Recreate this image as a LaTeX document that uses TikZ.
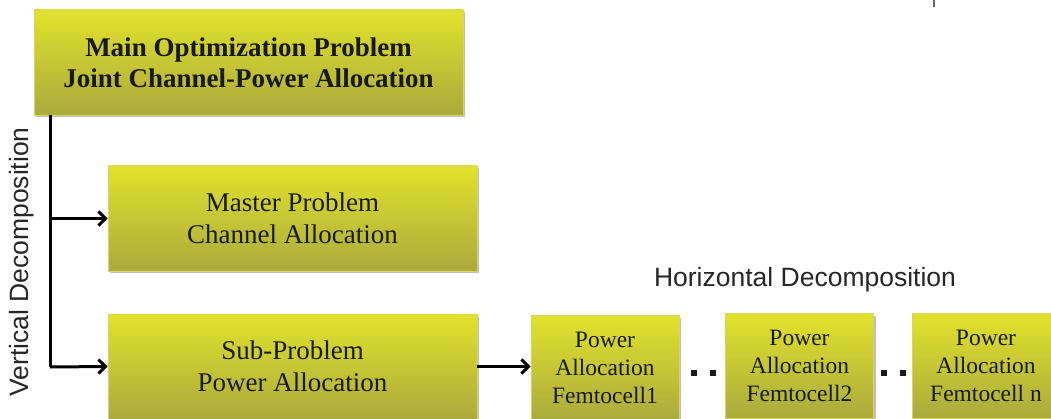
\documentclass[tikz,border=0pt]{standalone}
\usepackage{fontspec}
\setmainfont{Liberation Serif}
\setsansfont{Liberation Sans}
\usetikzlibrary{arrows.meta,shadows}

\definecolor{boxtop}{RGB}{226,226,44}
\definecolor{boxbot}{RGB}{170,170,62}
\definecolor{boxedge}{RGB}{214,214,96}

\tikzset{
  block/.style={rectangle, inner sep=0pt, top color=boxtop, bottom color=boxbot,
    draw=boxedge, line width=0.8pt, align=center, text=black!90,
    drop shadow={shadow xshift=2pt, shadow yshift=-2.5pt, opacity=0.25, fill=black}},
  bigblock/.style={block, minimum width=429pt, minimum height=105pt,
    font=\fontsize{27}{31}\selectfont\bfseries},
  midblock/.style={block, minimum width=369pt, minimum height=105pt,
    font=\fontsize{27}{32}\selectfont},
  cellblock/.style={block, minimum width=148pt, minimum height=105pt,
    font=\fontsize{23.5}{28}\selectfont},
  link/.style={draw=black, line width=3pt},
  arrowlink/.style={link, -{Straight Barb[length=7pt,width=14pt,line width=3pt]}},
  caption/.style={font=\sffamily\fontsize{26.5}{30}\selectfont, text=black!85, inner sep=0pt},
  dot/.style={fill=black!90, minimum size=6pt, inner sep=0pt, rectangle}
}

\begin{document}
\begin{tikzpicture}[x=1pt, y=-1pt]
  \useasboundingbox (0,0) rectangle (1051,419);
  \clip (0,0) rectangle (1051,419);

  % problem hierarchy
  \node[bigblock] (main) at (248.5,62.5) {Main Optimization Problem\\Joint Channel-Power Allocation};
  \node[midblock] (master) at (292.5,218.5) {Master Problem\\Channel Allocation};
  \node[midblock] (sub) at (292.5,366.5) {Sub-Problem\\Power Allocation};

  % per-femtocell power allocation
  \node[cellblock] (fc1) at (605,368) {Power\\Allocation\\Femtocell1};
  \node[cellblock] (fc2) at (799.5,365.5) {Power\\Allocation\\Femtocell2};
  \node[cellblock] (fcn) at (986,365.5) {Power\\Allocation\\Femtocell n};

  % ellipsis dots between femtocells
  \node[dot] (d1) at (694,373) {};
  \node[dot] (d2) at (713,373) {};
  \node[dot] (d3) at (884,373) {};
  \node[dot] (d4) at (903,373) {};

  % vertical decomposition trunk
  \coordinate (trunk) at (50,367);
  \draw[link] (main.south -| trunk) -- (trunk);
  \draw[arrowlink] (master.west -| trunk) -- (master.west);
  \draw[arrowlink] (trunk) -- (sub.west);

  % horizontal decomposition
  \draw[arrowlink] (sub.east) -- (fc1.west |- sub.east);

  % labels
  \node[caption, rotate=90] (vlabel) at (22,262) {Vertical Decomposition};
  \node[caption] (hlabel) at (805,280) {Horizontal Decomposition};

  % small tick at the top edge
  \draw[black!60, line width=1.5pt] (934,0) -- (934,7);
\end{tikzpicture}
\end{document}
